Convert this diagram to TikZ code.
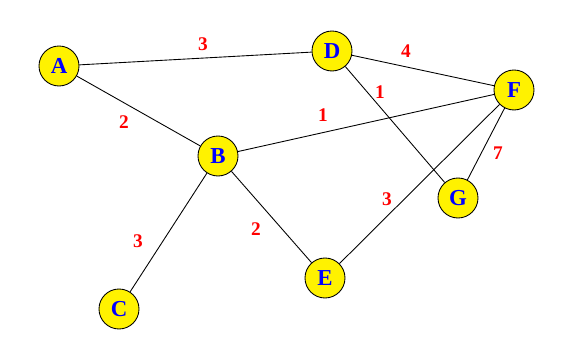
\documentclass[tikz,border=0pt]{standalone}
\usepackage{fontspec}
\setmainfont{Liberation Serif}
\usepackage{xcolor}
\usetikzlibrary{positioning}

\begin{document}
\begin{tikzpicture}[
  vertex/.style={
    circle,
    draw=black,
    fill=yellow,
    line width=0.5pt,
    minimum size=0.8cm,
    inner sep=0pt,
    text=blue,
    font=\fontsize{13}{15}\selectfont\bfseries
  },
  wt/.style={
    text=red,
    inner sep=1pt,
    font=\fontsize{11}{13}\selectfont\bfseries
  },
  edge/.style={
    draw=black,
    line width=0.5pt
  }
]
\useasboundingbox (0,0) rectangle (11.72,7.08);

% Vertices
\node[vertex] (a) at (1.18,5.76) {A};
\node[vertex] (b) at (4.36,3.96) {B};
\node[vertex] (c) at (2.38,0.90) {C};
\node[vertex] (d) at (6.64,6.06) {D};
\node[vertex] (e) at (6.50,1.52) {E};
\node[vertex] (f) at (10.28,5.28) {F};
\node[vertex] (g) at (9.16,3.12) {G};

% Edges
\draw[edge] (a) -- (d);
\draw[edge] (a) -- (b);
\draw[edge] (b) -- (c);
\draw[edge] (b) -- (e);
\draw[edge] (b) -- (f);
\draw[edge] (d) -- (f);
\draw[edge] (d) -- (g);
\draw[edge] (e) -- (f);
\draw[edge] (f) -- (g);

% Weights
\node[wt] (w-ad) at (4.06,6.20) {3};
\node[wt] (w-ab) at (2.48,4.64) {2};
\node[wt] (w-bc) at (2.76,2.26) {3};
\node[wt] (w-be) at (5.12,2.50) {2};
\node[wt] (w-bf) at (6.46,4.78) {1};
\node[wt] (w-df) at (8.12,6.06) {4};
\node[wt] (w-dg) at (7.60,5.24) {1};
\node[wt] (w-ef) at (7.74,3.10) {3};
\node[wt] (w-fg) at (9.96,4.02) {7};

\end{tikzpicture}
\end{document}
